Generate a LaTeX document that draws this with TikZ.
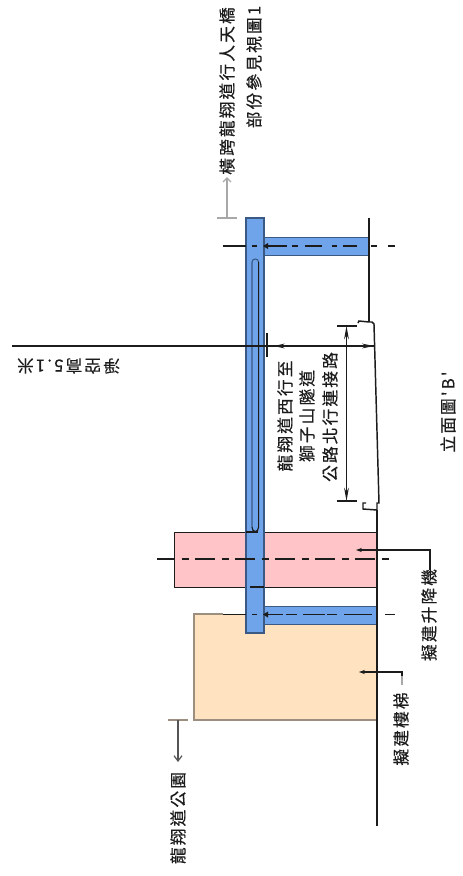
\documentclass[tikz,border=0pt]{standalone}
\usepackage{fontspec}
\usepackage{xcolor}
\usetikzlibrary{arrows.meta}
\newfontfamily\cjkfont[LetterSpace=13,FakeBold=0.4]{Noto Sans CJK TC}
\definecolor{bluefill}{HTML}{6FA3EA}
\definecolor{blueedge}{HTML}{3A5A85}
\definecolor{pinkfill}{HTML}{FFC4C8}
\definecolor{beigefill}{HTML}{FFE2C0}
\definecolor{beigeedge}{HTML}{9C8F80}
\definecolor{leadgrey}{HTML}{A8A8A8}
\definecolor{inkc}{HTML}{1C1C1C}
\tikzset{
  lbl/.style={font=\cjkfont\fontsize{12.5pt}{16.9pt}\selectfont,text=inkc,inner sep=0pt,align=center},
  lblup/.style={lbl,rotate=90},
  lblflip/.style={lbl,rotate=180},
  blockbox/.style={inner sep=0pt,outer sep=0pt,minimum width=#1},
  ln/.style={draw=inkc,line width=0.85pt},
  centre/.style={draw=inkc,line width=0.85pt,dash pattern=on 15pt off 4.9pt on 5.25pt off 4.9pt,dash phase=1.5pt},
  tip/.style={-{Stealth[length=4.5pt,width=3.2pt]}},
  bothtip/.style={{Stealth[length=10pt,width=3.6pt]}-{Stealth[length=10pt,width=3.6pt]}},
  open/.style={-{Straight Barb[length=4pt,width=6pt]}}
}
\begin{document}
\begin{tikzpicture}[x=0.75pt,y=-0.75pt]
\useasboundingbox (0,0) rectangle (462,876);
% filled blocks
\node[blockbox=151.5pt,minimum height=41.25pt,fill=pinkfill,anchor=north west] (pink) at (174,532) {};
\node[blockbox=136.5pt,minimum height=79.5pt,fill=beigefill,anchor=north west] (beige) at (194,614) {};
\draw[draw=beigeedge,line width=0.9pt] (376,720) -- (194,720) -- (194,614) -- (223,614);
\draw[ln,line width=0.7pt] (pink.south east) -- (pink.south west) -- (pink.north west) -- (pink.north east);
% blue members
\node[blockbox=79pt,minimum height=13.5pt,fill=bluefill,draw=blueedge,line width=0.6pt,anchor=north west] (beamtop) at (264,237) {};
\node[blockbox=84pt,minimum height=13.5pt,fill=bluefill,draw=blueedge,line width=0.6pt,anchor=north west] (beamlow) at (264,606) {};
\node[blockbox=13.5pt,minimum height=311.25pt,fill=bluefill,draw=blueedge,line width=0.8pt,anchor=north west] (deck) at (246,218) {};
% slot in the deck
\draw[draw=blueedge,line width=0.8pt] (252,527) -- (252,262) .. controls (252,258) and (258.6,258) .. (258.6,262);
\draw[ln] (258.6,262) -- (258.6,527) .. controls (258.6,533) and (252,533) .. (252,527);
% pink edges over deck
\draw[ln] (246,532) -- (258,532);
\draw[ln] (250,587) -- (264,587);
% ground line
\coordinate (g0) at (369,218);
\coordinate (g1) at (369,322);
\coordinate (h0) at (358,323);
\coordinate (g2) at (374,324);
\coordinate (g3) at (379,503);
\coordinate (g4) at (377,510);
\coordinate (h1) at (363,503);
\coordinate (g5) at (377,826);
\draw[ln,line width=1pt] (g0) -- (g1);
\draw[ln,line width=1.1pt] (h0) -- ++(1,-2) -- (g1) -- ++(3,0) -- (g2) -- (g3) -- ++(-2,0) -- (g4) -- (363,509) -- (h1) -- ++(3,0);
\draw[ln,line width=1pt] (g4) -- (g5);
% centre lines
\coordinate (c1a) at (223,246);
\coordinate (c2a) at (223,614.5);
\coordinate (c3a) at (157,559); \coordinate (c3b) at (393,559);
\draw[ln] (c1a) -- (246,246);
\foreach \a/\b in {252/257,267/287,292/298,305/322,332/337,343/357,371/377,388/395}{
  \draw[ln] (\a,246) -- (\b,246);}
\fill[inkc] (263,246) -- (268,243) -- (268,249) -- cycle;
\draw[ln] (c2a) -- (246,614.5);
\foreach \a/\b in {252/257,265/283,286/297,303/325,327/337,344/372,385/395}{
  \draw[ln] (\a,614.5) -- (\b,614.5);}
\fill[inkc] (263,614.5) -- (268,611.5) -- (268,617.5) -- cycle;
\draw[centre] (c3a) -- (c3b);
% clearance dimension
\coordinate (d0) at (12,346);
\coordinate (d1) at (374,346);
\coordinate (t0) at (267,333);
\coordinate (t1) at (267,357);
\coordinate (t3) at (274,346);
\draw[ln,line width=1pt] (d0) -- (d1);
\draw[ln,line width=0.9pt] (t0) -- (t1);
\draw[inkc,line width=0.8pt,-{Stealth[length=8pt,width=3.6pt]}] (290,346) -- (t3);
\draw[inkc,line width=0.8pt,-{Stealth[length=9pt,width=3.6pt]}] (355,346) -- (d1);
% slip road dimension
\coordinate (e0) at (346.5,326);
\coordinate (e1) at (346.5,501);
\draw[ln,line width=0.9pt] (337,326) -- (357,326);
\draw[ln,line width=0.9pt] (337,501) -- (357,501);
\draw[inkc,line width=0.8pt,bothtip] (e0) -- (e1);
% leaders
\coordinate (l1a) at (430,570); \coordinate (l1b) at (430,550); \coordinate (l1c) at (356,550);
\draw[inkc,line width=0.8pt,tip] (l1a) -- (l1b) -- (l1c);
\coordinate (l2a) at (402,685); \coordinate (l2b) at (402,672); \coordinate (l2c) at (359,672);
\draw[leadgrey,line width=1pt] (l2a) -- (402,676);
\draw[inkc,line width=0.8pt,tip] (402,676) -- (l2b) -- (l2c);
% top arrow
\coordinate (a1) at (227,218); \coordinate (a2) at (227,177);
\draw[leadgrey,line width=1pt] (217,218) -- (237,218);
\draw[leadgrey,line width=1pt,-{Straight Barb[length=3pt,width=6pt]}] (a1) -- (a2);
% park arrow
\coordinate (p1) at (178,720); \coordinate (p2) at (178,762);
\draw[draw=beigeedge,line width=0.9pt] (168,720) -- (188,720);
\draw[draw=inkc!75,line width=0.9pt,open] (p1) -- (p2);
% labels
\node[lblup] (n1) at (227,91) {橫跨龍翔道行人天橋};
\node[lblup] (n2) at (254,67) {部份參見視圖1};
\node[lblflip] (n3) at (68.5,366) {淨空高5.1米};
\node[lblup] (n4) at (285,416) {龍翔道西行至};
\node[lblup] (n5) at (307,416) {獅子山隧道};
\node[lblup] (n6) at (330,417) {公路北行連接路};
\node[lblup] (n7) at (448,412) {立面圖'B'};
\node[lblup] (n8) at (429,615) {擬建升降機};
\node[lblup] (n9) at (401,729) {擬建樓梯};
\node[lblup] (n10) at (178,818) {龍翔道公園};
\end{tikzpicture}
\end{document}
